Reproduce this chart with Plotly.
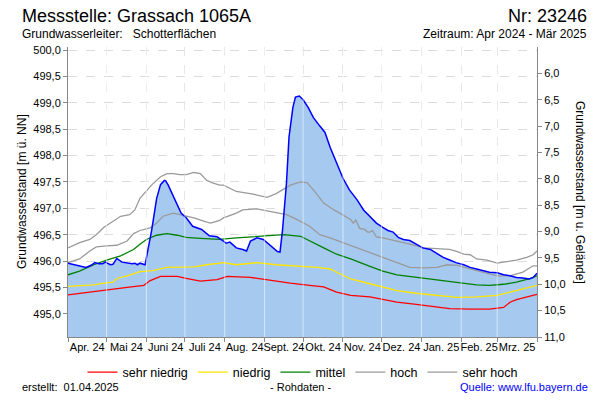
import pandas as pd
import plotly.graph_objects as go

# ---------------- data ----------------
START = "2024-04-01"
END = "2025-04-01"
GROUND_LEVEL = 505.56  # m ü. NN (Geländehöhe)

BLUE_DAYS = [0, 5, 10, 14, 18, 21, 24, 27, 29, 33, 35, 38, 42, 46, 50, 52, 54, 56, 60, 62, 65, 69, 72, 75, 76, 78,
             83, 88, 92, 97, 104, 110, 113, 116, 121, 123, 126, 131, 136, 139, 142, 147, 152, 156, 160, 163, 165,
             167, 170, 172, 175, 177, 180, 183, 187, 191, 196, 200, 204, 209, 214, 219, 225, 230, 235, 240, 245,
             249, 253, 257, 261, 266, 271, 276, 282, 287, 292, 297, 302, 308, 313, 318, 323, 328, 334, 339, 344,
             349, 354, 359, 362, 364, 365]
BLUE_VALUES = [495.96, 495.93, 495.90, 495.88, 495.92, 495.97, 495.95, 495.95, 495.98, 495.93, 495.94, 496.05,
               495.98, 495.96, 495.95, 495.96, 495.93, 495.96, 495.93, 496.19, 496.57, 497.19, 497.45, 497.53,
               497.52, 497.44, 497.19, 496.91, 496.82, 496.66, 496.60, 496.48, 496.47, 496.46, 496.38, 496.34,
               496.36, 496.25, 496.22, 496.19, 496.38, 496.44, 496.41, 496.32, 496.24, 496.18, 496.17, 496.60,
               497.47, 498.35, 498.91, 499.11, 499.13, 499.06, 498.91, 498.72, 498.56, 498.44, 498.16, 497.85,
               497.57, 497.35, 497.16, 496.97, 496.84, 496.72, 496.64, 496.58, 496.55, 496.45, 496.41, 496.39,
               496.32, 496.25, 496.22, 496.14, 496.07, 496.02, 495.97, 495.93, 495.88, 495.85, 495.82, 495.79,
               495.78, 495.74, 495.72, 495.69, 495.68, 495.66, 495.69, 495.75, 495.77]

SEHR_HOCH_DAYS = [0, 9, 17, 22, 28, 33, 37, 41, 48, 52, 56, 61, 65, 72, 77, 82, 87, 92, 98, 103, 108, 113, 118, 121,
                  131, 144, 155, 162, 173, 181, 186, 191, 199, 207, 214, 220, 222, 224, 227, 231, 233, 235, 237,
                  240, 245, 256, 266, 277, 287, 297, 303, 308, 313, 318, 326, 334, 339, 349, 357, 362, 365]
SEHR_HOCH_VALUES = [496.25, 496.35, 496.41, 496.50, 496.64, 496.72, 496.78, 496.85, 496.88, 496.97, 497.19, 497.32,
                    497.44, 497.60, 497.66, 497.66, 497.64, 497.64, 497.68, 497.66, 497.53, 497.48, 497.44, 497.44,
                    497.32, 497.27, 497.21, 497.28, 497.44, 497.50, 497.49, 497.35, 497.10, 496.97, 496.88, 496.79,
                    496.72, 496.78, 496.62, 496.60, 496.55, 496.55, 496.58, 496.46, 496.44, 496.38, 496.32, 496.25,
                    496.23, 496.22, 496.18, 496.13, 496.12, 496.04, 496.02, 495.96, 495.98, 496.02, 496.07, 496.12,
                    496.19]

HOCH_DAYS = [0, 9, 17, 22, 30, 38, 46, 51, 56, 64, 69, 74, 82, 87, 98, 108, 111, 118, 121, 131, 136, 147, 155, 162,
             170, 178, 188, 196, 204, 214, 225, 235, 245, 256, 266, 277, 287, 295, 303, 313, 323, 334, 344, 354,
             362, 365]
HOCH_VALUES = [495.97, 496.04, 496.19, 496.27, 496.29, 496.30, 496.38, 496.52, 496.58, 496.63, 496.72, 496.85,
               496.91, 496.88, 496.82, 496.74, 496.72, 496.77, 496.82, 496.91, 496.97, 496.99, 496.95, 496.91,
               496.88, 496.79, 496.66, 496.50, 496.44, 496.35, 496.25, 496.15, 496.07, 495.97, 495.88, 495.87,
               495.88, 495.93, 495.92, 495.85, 495.79, 495.72, 495.72, 495.79, 495.91, 495.91]

MITTEL_DAYS = [0, 9, 20, 30, 41, 51, 56, 61, 69, 77, 85, 92, 103, 118, 131, 152, 168, 181, 188, 199, 209, 220, 235,
               245, 256, 266, 277, 287, 297, 308, 318, 328, 339, 349, 360, 365]
MITTEL_VALUES = [495.74, 495.81, 495.93, 496.02, 496.10, 496.22, 496.32, 496.41, 496.49, 496.52, 496.49, 496.45,
                 496.43, 496.41, 496.44, 496.47, 496.50, 496.47, 496.38, 496.25, 496.13, 496.04, 495.90, 495.81,
                 495.74, 495.71, 495.68, 495.64, 495.62, 495.58, 495.55, 495.54, 495.56, 495.60, 495.67, 495.72]

NIEDRIG_DAYS = [0, 9, 20, 28, 35, 38, 46, 56, 66, 77, 87, 98, 108, 118, 121, 131, 147, 162, 178, 194, 204, 212, 220,
                235, 245, 256, 271, 287, 303, 318, 334, 344, 354, 365]
NIEDRIG_VALUES = [495.52, 495.53, 495.55, 495.58, 495.60, 495.67, 495.72, 495.80, 495.82, 495.88, 495.88, 495.89,
                  495.93, 495.95, 495.97, 495.93, 495.97, 495.93, 495.91, 495.88, 495.85, 495.75, 495.66, 495.57,
                  495.51, 495.44, 495.39, 495.35, 495.31, 495.32, 495.35, 495.41, 495.47, 495.54]

SEHR_NIEDRIG_DAYS = [0, 15, 30, 46, 59, 64, 72, 85, 92, 103, 116, 124, 142, 157, 173, 188, 199, 209, 220, 235, 256,
                     271, 287, 297, 313, 328, 339, 344, 349, 360, 365]
SEHR_NIEDRIG_VALUES = [495.36, 495.41, 495.45, 495.50, 495.54, 495.63, 495.71, 495.71, 495.67, 495.62, 495.65,
                       495.71, 495.69, 495.63, 495.58, 495.54, 495.51, 495.41, 495.35, 495.32, 495.22, 495.18,
                       495.13, 495.10, 495.09, 495.09, 495.12, 495.22, 495.27, 495.33, 495.37]

MONTH_LABELS = ["Apr. 24", "Mai 24", "Juni 24", "Juli 24", "Aug. 24", "Sept. 24", "Okt. 24", "Nov. 24",
                "Dez. 24", "Jan. 25", "Feb. 25", "Mrz. 25"]
LEFT_TICKS = [495.0, 495.5, 496.0, 496.5, 497.0, 497.5, 498.0, 498.5, 499.0, 499.5, 500.0]
RIGHT_TICKS = [6.0, 6.5, 7.0, 7.5, 8.0, 8.5, 9.0, 9.5, 10.0, 10.5, 11.0]

# ---------------- helpers ----------------
t0 = pd.Timestamp(START)


def to_dates(days):
    return [t0 + pd.Timedelta(days=d) for d in days]


month_starts = pd.date_range(START, END, freq="MS")
mid_months = [a + (b - a) / 2 for a, b in zip(month_starts[:-1], month_starts[1:])]

FONT = "Liberation Sans, Arial, sans-serif"
L, R, T, B = 68, 537, 47, 341
W, H = R - L, B - T


def px(x):
    return (x - L) / W


def py(y):
    return (B - y) / H


fig = go.Figure()

blue_x = to_dates(BLUE_DAYS)

# filled area under the measured series
fig.add_trace(go.Scatter(x=blue_x, y=BLUE_VALUES, mode="lines", fill="tozeroy",
                         fillcolor="rgb(166,201,240)", line=dict(width=0, color="rgba(0,0,0,0)"),
                         showlegend=False, hoverinfo="skip"))

series = [
    ("sehr niedrig", SEHR_NIEDRIG_DAYS, SEHR_NIEDRIG_VALUES, "#ff0000"),
    ("niedrig", NIEDRIG_DAYS, NIEDRIG_VALUES, "#ffe600"),
    ("mittel", MITTEL_DAYS, MITTEL_VALUES, "#008000"),
    ("hoch", HOCH_DAYS, HOCH_VALUES, "#9a9a9a"),
    ("sehr hoch", SEHR_HOCH_DAYS, SEHR_HOCH_VALUES, "#9a9a9a"),
]
for name, d, v, c in series:
    fig.add_trace(go.Scatter(x=to_dates(d), y=v, mode="lines", name=name,
                             line=dict(color=c, width=1.3)))

# measured line on top
fig.add_trace(go.Scatter(x=blue_x, y=BLUE_VALUES, mode="lines", line=dict(color="#0000ff", width=1.5),
                         showlegend=False, name="Messwerte"))

# same series on the depth axis (invisible, to carry the right axis)
fig.add_trace(go.Scatter(x=blue_x, y=[round(GROUND_LEVEL - v, 2) for v in BLUE_VALUES], yaxis="y2",
                         mode="lines", line=dict(width=0, color="rgba(0,0,0,0)"),
                         showlegend=False, hoverinfo="skip"))

# month separators drawn over the fill
for ms in month_starts[1:-1]:
    fig.add_shape(type="line", x0=ms, x1=ms, y0=0, y1=1, xref="x", yref="y domain",
                  line=dict(color="rgba(255,255,255,0.55)", width=1), layer="above")

annotations = [
    dict(text="Messstelle: Grassach 1065A", x=px(20), y=py(16), xanchor="left", yanchor="middle",
         font=dict(size=18, family=FONT, color="black")),
    dict(text="Nr: 23246", x=px(589), y=py(16), xanchor="right", yanchor="middle",
         font=dict(size=18, family=FONT, color="black")),
    dict(text="Grundwasserleiter:\u00a0\u00a0\u00a0Schotterflächen", x=px(20), y=py(34), xanchor="left",
         yanchor="middle", font=dict(size=12, family=FONT, color="black")),
    dict(text="Zeitraum: Apr 2024 - Mär 2025", x=px(589), y=py(34), xanchor="right", yanchor="middle",
         font=dict(size=12, family=FONT, color="black")),
    dict(text="Grundwasserstand [m ü. NN]", x=px(22), y=py(194), xanchor="center", yanchor="middle",
         textangle=-90, font=dict(size=12, family=FONT, color="black")),
    dict(text="Grundwasserstand [m u. Gelände]", x=px(580), y=py(194), xanchor="center", yanchor="middle",
         textangle=90, font=dict(size=12, family=FONT, color="black")),
    dict(text="erstellt:\u00a0\u00a001.04.2025", x=px(20), y=py(392), xanchor="left", yanchor="middle",
         font=dict(size=11, family=FONT, color="black")),
    dict(text="- Rohdaten -", x=px(300), y=py(392), xanchor="center", yanchor="middle",
         font=dict(size=11, family=FONT, color="black")),
    dict(text="Quelle: www.lfu.bayern.de", x=px(590), y=py(392), xanchor="right", yanchor="middle",
         font=dict(size=11, family=FONT, color="#0000ff")),
]
for a in annotations:
    a.update(xref="paper", yref="paper", showarrow=False)

fig.update_layout(
    width=600, height=400,
    margin=dict(l=L, r=600 - R, t=T, b=400 - B, pad=0),
    paper_bgcolor="white", plot_bgcolor="white",
    separators=",.",
    font=dict(family=FONT, size=11, color="black"),
    annotations=annotations,
    showlegend=True,
    legend=dict(orientation="h", x=0.5, xanchor="center", y=py(377), yanchor="middle",
                font=dict(size=12.5, family=FONT, color="black"), itemwidth=30,
                bgcolor="rgba(0,0,0,0)", traceorder="normal"),
    xaxis=dict(
        type="date", range=[START, END],
        tickmode="array", tickvals=mid_months, ticktext=MONTH_LABELS, ticks="", tickangle=0,
        showgrid=False, showline=True, linecolor="#888888", linewidth=1, zeroline=False,
        tickfont=dict(size=11, family=FONT, color="black"),
        minor=dict(tickmode="array", tickvals=list(month_starts), ticks="outside", ticklen=4,
                   tickcolor="#888888", showgrid=True, gridcolor="#dcdcdc", griddash="dash", gridwidth=1),
    ),
    yaxis=dict(
        range=[494.56, 500.06], tickmode="array", tickvals=LEFT_TICKS, tickformat=".1f",
        ticks="outside", ticklen=4, tickcolor="#888888",
        showline=True, linecolor="#888888", linewidth=1, zeroline=False,
        showgrid=True, gridcolor="#dcdcdc", griddash="dash",
        tickfont=dict(size=11, family=FONT, color="black"),
    ),
    yaxis2=dict(
        overlaying="y", side="right", range=[11.0, 5.5], tickmode="array", tickvals=RIGHT_TICKS,
        tickformat=".1f", ticks="outside", ticklen=4, tickcolor="#888888",
        showline=True, linecolor="#888888", linewidth=1, zeroline=False, showgrid=False,
        tickfont=dict(size=11, family=FONT, color="black"),
    ),
)

fig.write_html("out.html", config={"displayModeBar": False},
               post_script="document.body.style.margin='0';")
